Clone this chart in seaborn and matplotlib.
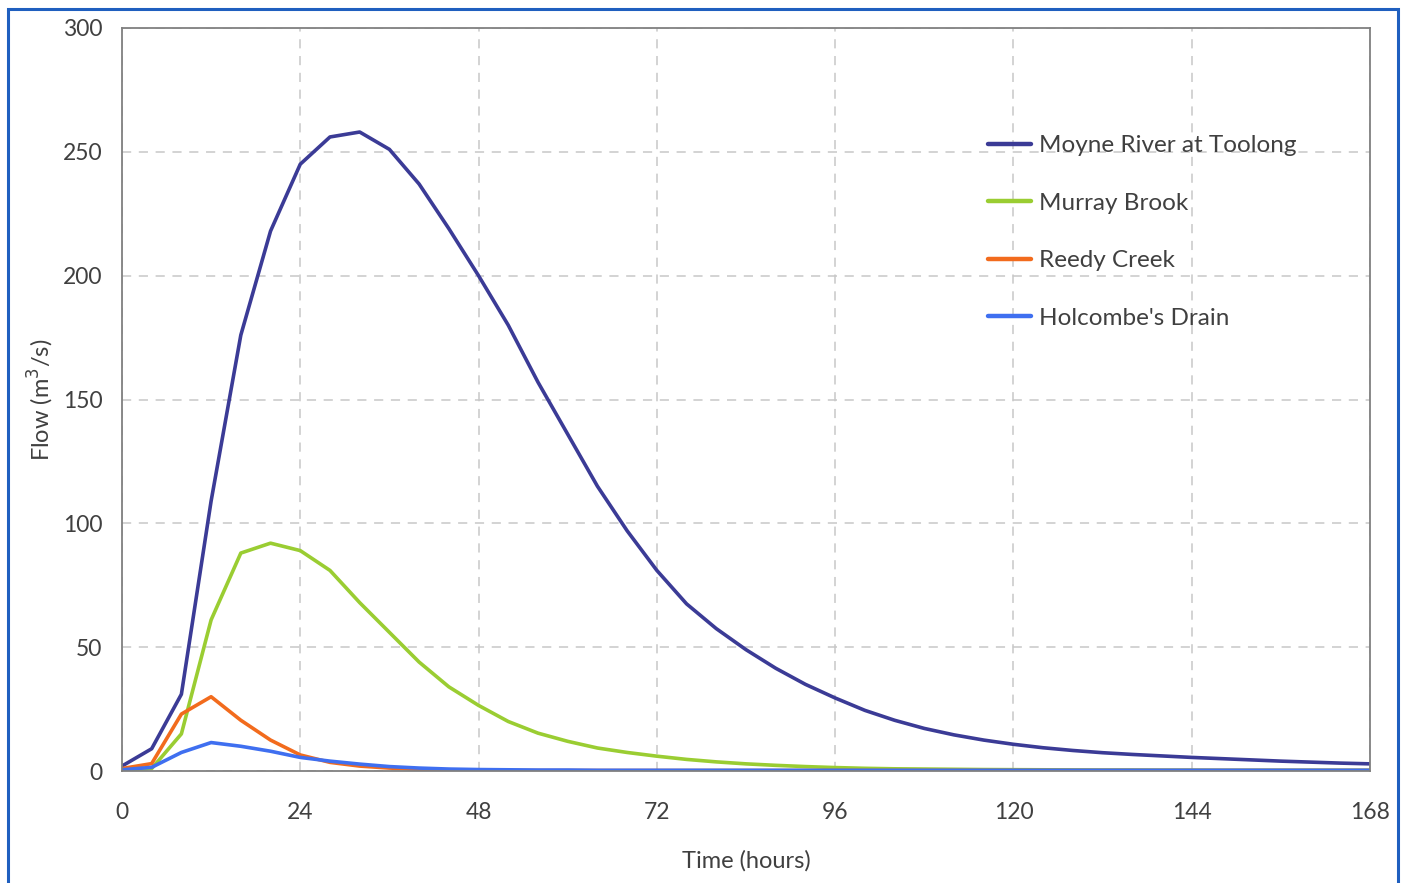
import numpy as np
import pandas as pd
import matplotlib.pyplot as plt
from matplotlib.patches import Rectangle
import seaborn as sns

# hydrograph values, 4-hourly
hours = list(range(0, 169, 4))

moyne = [2, 9, 31, 109, 176, 218, 245, 256, 258, 251, 237, 219, 200, 180, 157,
         136, 115, 97, 81, 67.5, 57.5, 49, 41.5, 35, 29.5, 24.5, 20.5, 17.2, 14.6,
         12.5, 10.8, 9.4, 8.3, 7.4, 6.7, 6.1, 5.5, 5, 4.5, 4, 3.6, 3.2, 2.9]
murray = [0.5, 1, 15, 61, 88, 92, 89, 81, 68, 56, 44, 34, 26.5, 20, 15.3, 12,
          9.3, 7.5, 6, 4.7, 3.7, 2.9, 2.3, 1.8, 1.4, 1.1, 0.9, 0.8, 0.7, 0.6,
          0.55, 0.5, 0.45, 0.4, 0.4, 0.35, 0.35, 0.3, 0.3, 0.3, 0.3, 0.3, 0.3]
reedy = [1, 3, 23, 30, 20.5, 12.5, 6.5, 3.5, 2, 1.2, 0.7, 0.4, 0.3, 0.2, 0.2,
         0.2, 0.2, 0.2, 0.2, 0.2, 0.2, 0.2, 0.2, 0.2, 0.2, 0.2, 0.2, 0.2, 0.2,
         0.2, 0.2, 0.2, 0.2, 0.2, 0.2, 0.2, 0.2, 0.2, 0.2, 0.2, 0.2, 0.2, 0.2]
holcombe = [0.5, 1.5, 7.5, 11.5, 10, 8, 5.5, 4, 2.8, 1.8, 1.2, 0.8, 0.6, 0.5,
            0.4, 0.4, 0.3, 0.3, 0.3, 0.3, 0.3, 0.3, 0.3, 0.3, 0.3, 0.3, 0.3, 0.3,
            0.3, 0.3, 0.3, 0.3, 0.3, 0.3, 0.3, 0.3, 0.3, 0.3, 0.3, 0.3, 0.3, 0.3, 0.3]

names = ["Moyne River at Toolong", "Murray Brook", "Reedy Creek", "Holcombe's Drain"]
colors = ["#3b3b96", "#9acd32", "#f26b1d", "#3f6ff0"]
x_ticks = [0, 24, 48, 72, 96, 120, 144, 168]
y_ticks = [0, 50, 100, 150, 200, 250, 300]

frames = []
for name, vals in zip(names, [moyne, murray, reedy, holcombe]):
    frames.append(pd.DataFrame({"Time": hours, "Flow": vals, "Site": name}))
df = pd.concat(frames, ignore_index=True)

sns.set_style("white")
plt.rcParams["font.family"] = ["Lato", "DejaVu Sans"]
text_col = "#404040"

fig = plt.figure(figsize=(14.05, 8.83), dpi=100)
ax = fig.add_axes([0.0868, 0.1268, 0.8883, 0.8415])

sns.lineplot(data=df, x="Time", y="Flow", hue="Site", hue_order=names,
             palette=dict(zip(names, colors)), linewidth=2.6, ax=ax)

ax.set_xlim(0, 168)
ax.set_ylim(0, 300)
ax.set_xticks(x_ticks)
ax.set_yticks(y_ticks)
ax.grid(True, color="#c8c8c8", linestyle=(0, (6, 5)), linewidth=1.1)
for s in ax.spines.values():
    s.set_color("#808080")
    s.set_linewidth(1.3)
ax.tick_params(axis="both", direction="out", length=6, width=1,
               color="#808080", labelsize=16.5, labelcolor=text_col)
ax.tick_params(axis="x", pad=16)
ax.tick_params(axis="y", pad=8)
ax.set_xlabel("Time (hours)", fontsize=17, color=text_col, labelpad=20)
ax.set_ylabel("Flow (m$^3$/s)", fontsize=17, color=text_col, labelpad=5)

leg = ax.legend(loc="upper left", bbox_to_anchor=(0.676, 0.885), frameon=False,
                fontsize=17.5, handlelength=1.8, handletextpad=0.3,
                labelspacing=1.5)
for t in leg.get_texts():
    t.set_color(text_col)
for h in leg.get_lines():
    h.set_linewidth(3.2)

# blue outline around the picture
fig.patches.append(Rectangle((0.006, -0.05), 0.989, 1.04, transform=fig.transFigure,
                             fill=False, edgecolor="#1f5fbf", linewidth=2.2))

fig.savefig("out.png", dpi=100)
